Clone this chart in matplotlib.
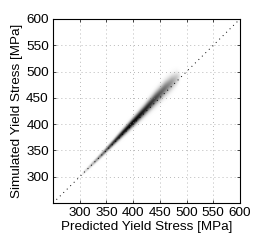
import numpy as np
import matplotlib
matplotlib.use("Agg")
import matplotlib.pyplot as plt

plt.rcParams['font.family'] = ['Liberation Sans', 'DejaVu Sans']

# Ridge of the density band
pred_pts = [305, 320, 340, 360, 380, 400, 420, 440, 460, 472, 482, 488]
sim_center = [305, 320, 340, 361, 382, 403, 424, 446, 467, 478, 486, 490]
sim_spread = [2.0, 2.5, 3.0, 3.5, 4.5, 5.5, 6.5, 8.0, 9.0, 9.0, 8.0, 6.0]
density_w = [0.10, 0.25, 0.50, 0.80, 0.95, 1.00, 0.90, 0.75, 0.55, 0.40, 0.22, 0.08]

ticks = [300, 350, 400, 450, 500, 550, 600]
lims = [250, 600]

# Build density grid from the ridge arrays
gx = np.linspace(lims[0], lims[1], 351)
gy = np.linspace(lims[0], lims[1], 351)
cx = np.interp(gx, pred_pts, sim_center)
sx = np.interp(gx, pred_pts, sim_spread)
wx = np.interp(gx, pred_pts, density_w, left=0, right=0)
Y = gy[:, None]
dens = wx[None, :] * np.exp(-0.5 * ((Y - cx[None, :]) / sx[None, :]) ** 2)

fig = plt.figure(figsize=(2.59, 2.42), dpi=100)
ax = fig.add_axes([0.2046, 0.161, 0.722, 0.7605])
ax.imshow(dens, extent=[lims[0], lims[1], lims[0], lims[1]], origin='lower',
          cmap='gray_r', vmin=0, vmax=1.0, interpolation='bilinear', aspect='auto')
ax.plot(lims, lims, color='black', linestyle=(0, (1, 4)), linewidth=0.7)
ax.set_xlim(lims)
ax.set_ylim(lims)
ax.set_xticks(ticks)
ax.set_yticks(ticks)
ax.grid(True, color='#777777', linestyle=(0, (1, 4.8)), linewidth=0.5)
ax.tick_params(direction='in', length=2, width=0.5, labelsize=9.7, pad=3,
               top=True, right=True)
for s in ax.spines.values():
    s.set_linewidth(0.8)
ax.set_xlabel('Predicted Yield Stress [MPa]', fontsize=9.7, labelpad=1)
ax.set_ylabel('Simulated Yield Stress [MPa]', fontsize=9.7, labelpad=2)
fig.savefig('out.png', dpi=100)
